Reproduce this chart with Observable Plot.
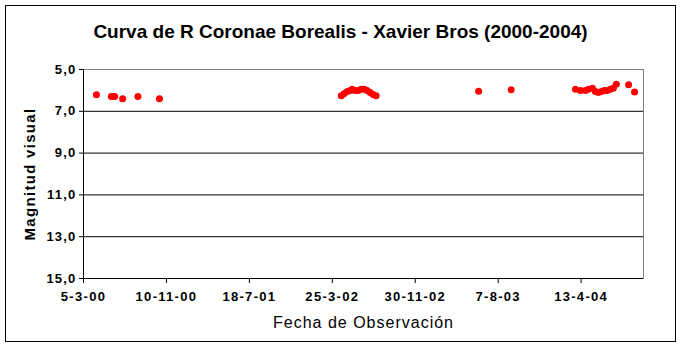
<!DOCTYPE html>
<html>
<head>
<meta charset="utf-8">
<script src="https://cdn.jsdelivr.net/npm/d3@7"></script>
<script src="https://cdn.jsdelivr.net/npm/@observablehq/plot@0.6"></script>
<style>
  html, body { margin: 0; padding: 0; background: #fff; }
  #wrap { position: relative; width: 681px; height: 347px; overflow: hidden; font-family: "Liberation Sans", Arial, sans-serif; }
  #frame { position: absolute; left: 5px; top: 5px; width: 669px; height: 335px; border: 1px solid #000; box-sizing: content-box; pointer-events: none; }
  #title { position: absolute; left: 0; width: 681px; top: 20px; line-height: 24px; text-align: center; font-weight: bold; font-size: 19px; color: #000; }
  #chart { position: absolute; left: 0; top: 0; }
  #chart g[aria-label="x-axis tick label"] text { letter-spacing: 1.3px; }
  #chart g[aria-label="y-axis tick label"] text { letter-spacing: 1.2px; }
</style>
</head>
<body>
<div id="wrap">
  <div id="chart"></div>
  <div id="frame"></div>
  <div id="title">Curva de R Coronae Borealis - Xavier Bros (2000-2004)</div>
</div>
<script>
const dates = [
  "2000-04-13","2000-05-28","2000-06-07","2000-07-01","2000-08-16","2000-10-20",
  "2002-04-21","2002-04-30","2002-05-09","2002-05-18","2002-05-24","2002-06-02","2002-06-11",
  "2002-06-20","2002-06-29","2002-07-08","2002-07-17","2002-07-26","2002-08-04",
  "2003-06-09","2003-09-15",
  "2004-03-27","2004-04-11","2004-04-26","2004-05-05","2004-05-17","2004-05-26","2004-06-04",
  "2004-06-13","2004-06-22","2004-07-01","2004-07-10","2004-07-19","2004-07-28",
  "2004-09-03","2004-09-21"
];
const magnitudes = [
  6.21, 6.29, 6.29, 6.40, 6.29, 6.40,
  6.25, 6.15, 6.05, 6.00, 5.95, 6.00, 6.00,
  5.95, 5.95, 6.00, 6.10, 6.20, 6.25,
  6.04, 5.97,
  5.95, 6.00, 6.00, 5.95, 5.90, 6.05, 6.10,
  6.05, 6.00, 6.00, 5.95, 5.90, 5.70,
  5.73, 6.08
];
const xDomain = ["2000-03-05", "2004-10-18"];
const xTickDates = ["2000-03-05","2000-11-10","2001-07-18","2002-03-25","2002-11-30","2003-08-07","2004-04-13"];
const xTickLabels = ["5-3-00","10-11-00","18-7-01","25-3-02","30-11-02","7-8-03","13-4-04"];
const yTicks = [5, 7, 9, 11, 13, 15];
const yGrid = [7, 9, 11, 13, 15];
const yTitle = "Magnitud visual";
const xTitle = "Fecha de Observación";

const data = dates.map((d, i) => ({date: new Date(d), mag: magnitudes[i]}));
const tickDates = xTickDates.map(d => new Date(d));
const labelOf = new Map(tickDates.map((d, i) => [+d, xTickLabels[i]]));

const chart = Plot.plot({
  width: 681,
  height: 347,
  marginLeft: 83,
  marginRight: 38,
  marginTop: 69,
  marginBottom: 69,
  style: {fontFamily: "'Liberation Sans', Arial, sans-serif", background: "transparent"},
  x: {type: "utc", domain: xDomain.map(d => new Date(d))},
  y: {domain: [5, 15], reverse: true},
  marks: [
    Plot.frame({stroke: "#808080"}),
    Plot.ruleY(yGrid, {stroke: "#000", strokeWidth: 1}),
    Plot.ruleX([new Date(xDomain[0])], {stroke: "#000", strokeWidth: 1}),
    Plot.axisY({
      ticks: yTicks, tickSize: 4, tickPadding: 3,
      tickFormat: d => d.toFixed(1).replace(".", ","),
      fontSize: 13, fontWeight: "bold", label: null, stroke: "#000"
    }),
    Plot.axisX({
      ticks: tickDates, tickSize: 5, tickPadding: 8,
      tickFormat: d => labelOf.get(+d),
      fontSize: 13, fontWeight: "bold", label: null, stroke: "#000"
    }),
    Plot.text([yTitle], {frameAnchor: "left", textAnchor: "middle", dx: -53, dy: 0, rotate: -90, fontSize: 15, fontWeight: "bold", fill: "#000"}),
    Plot.text([xTitle], {frameAnchor: "bottom", dy: 49, fontSize: 16, fill: "#000"}),
    Plot.dot(data, {x: "date", y: "mag", r: 3.5, fill: "#ff0000", stroke: "none"})
  ]
});
d3.select(chart).selectAll("text").each(function() {
  const t = this.textContent;
  if (t === yTitle) this.style.letterSpacing = "1.3px";
  if (t === xTitle) this.style.letterSpacing = "1px";
});
document.getElementById("chart").appendChild(chart);
</script>
</body>
</html>
